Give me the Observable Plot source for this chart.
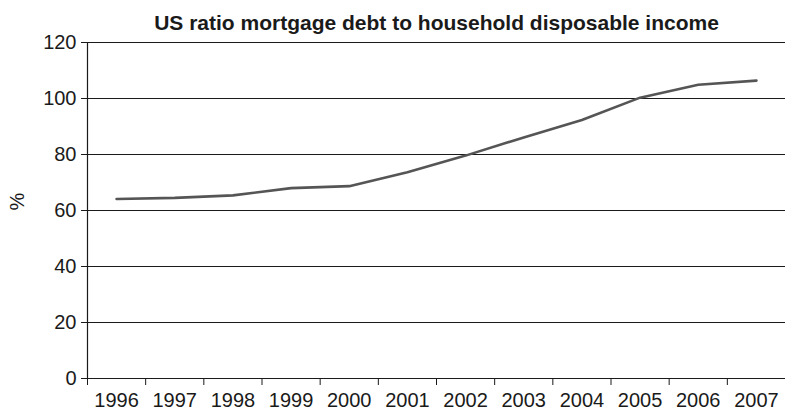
<!DOCTYPE html>
<html>
<head>
<meta charset="utf-8">
<script src="https://cdn.jsdelivr.net/npm/d3@7"></script>
<script src="https://cdn.jsdelivr.net/npm/@observablehq/plot@0.6"></script>
<style>
  html, body { margin: 0; padding: 0; background: #fff; }
</style>
</head>
<body>
<div id="chart"></div>
<script>
const title = "US ratio mortgage debt to household disposable income";
const yLabel = "%";
const years = [1996, 1997, 1998, 1999, 2000, 2001, 2002, 2003, 2004, 2005, 2006, 2007];
const ratio = [64.1, 64.5, 65.4, 68.0, 68.7, 73.7, 79.6, 86.1, 92.3, 100.3, 104.9, 106.4];
const yTicks = [0, 20, 40, 60, 80, 100, 120];

const data = years.map((year, i) => ({year, value: ratio[i]}));
const boundaries = years.map(y => y - 0.5).concat([years[years.length - 1] + 0.5]);

const font = "'Liberation Sans', Arial, Helvetica, sans-serif";

const chart = Plot.plot({
  width: 785,
  height: 416,
  marginTop: 42,
  marginBottom: 38,
  marginLeft: 87,
  marginRight: 0,
  style: {fontFamily: font, fontSize: "20px", color: "#1a1a1a", background: "#fff"},
  x: {type: "linear", domain: [boundaries[0], boundaries[boundaries.length - 1]]},
  y: {domain: [0, 120]},
  marks: [
    Plot.ruleY(yTicks.filter(d => d > 0), {stroke: "#1a1a1a", strokeWidth: 1.2}),
    Plot.ruleY([0], {stroke: "#1a1a1a", strokeWidth: 1.2}),
    Plot.ruleX([boundaries[0]], {stroke: "#1a1a1a", strokeWidth: 1.2}),
    Plot.axisY({ticks: yTicks, tickSize: 6, tickPadding: 5, label: null, fontSize: 20, stroke: "#1a1a1a"}),
    Plot.axisX({ticks: boundaries, tickSize: 7, tickFormat: () => "", label: null, stroke: "#1a1a1a"}),
    Plot.axisX({ticks: years, tickSize: 0, tickPadding: 14, tickFormat: d => String(d), label: null, fontSize: 20}),
    Plot.line(data, {x: "year", y: "value", stroke: "#555", strokeWidth: 2.6}),
    Plot.text([title], {frameAnchor: "top", dy: -27, fontWeight: "bold", fontSize: 21, fill: "#1a1a1a"}),
    Plot.text([yLabel], {frameAnchor: "left", dx: -70, rotate: -90, fontSize: 20, fill: "#1a1a1a"})
  ]
});
document.getElementById("chart").append(chart);
</script>
</body>
</html>
